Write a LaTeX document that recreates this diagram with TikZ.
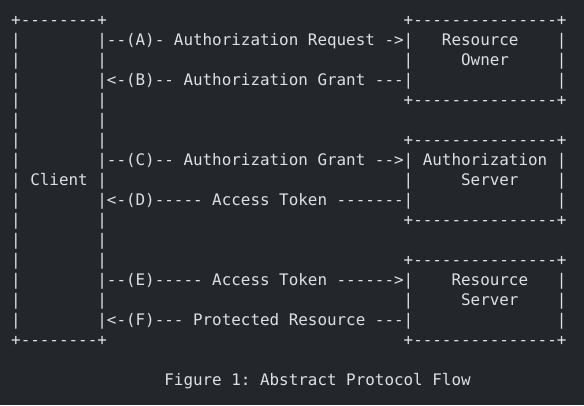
\documentclass[tikz,border=0pt]{standalone}
\usepackage{fontspec}
\setmonofont{DejaVu Sans Mono}
\definecolor{bgdark}{HTML}{23262B}
\definecolor{ink}{HTML}{DCDFE3}
\tikzset{
  glyph/.style={anchor=base west, inner sep=0pt, outer sep=0pt, text=ink,
    font=\ttfamily\fontsize{15.9pt}{20pt}\selectfont\frenchspacing},
}
\begin{document}
\begin{tikzpicture}[x=9.573pt, y=-20pt]
% Background and margins
\fill[bgdark] (-11.2pt,5.5pt) rectangle (572.8pt,-399.5pt);

% Client box
\node[glyph] (cltop) at (0,1) {+--------+};
\node[glyph] (clbot) at (0,17) {+--------+};
\foreach \l in {2,...,16} {
  \node[glyph] (clw\l) at (0,\l) {|};
  \node[glyph] (cle\l) at (9,\l) {|};
}
\node[glyph] (client) at (2,9) {Client};

% Boxes on the right
\foreach \ya/\yb/\bx in {1/5/ro, 7/11/as, 13/17/rs} {
  \node[glyph] (\bx top) at (41,\ya) {+---------------+};
  \node[glyph] (\bx bot) at (41,\yb) {+---------------+};
  \foreach \l in {1,2,3} {
    \node[glyph] (\bx w\l) at (41,\ya+\l) {|};
    \node[glyph] (\bx e\l) at (57,\ya+\l) {|};
  }
}
\node[glyph] (rolbl) at (45,2) {Resource};
\node[glyph] (rolblb) at (47,3) {Owner};
\node[glyph] (aslbl) at (43,8) {Authorization};
\node[glyph] (aslblb) at (47,9) {Server};
\node[glyph] (rslbl) at (46,14) {Resource};
\node[glyph] (rslblb) at (47,15) {Server};

% Message lines
\node[glyph] (msgA) at (10,2) {--(A)- Authorization Request ->};
\node[glyph] (msgB) at (10,4) {<-(B)-- Authorization Grant ---};
\node[glyph] (msgC) at (10,8) {--(C)-- Authorization Grant -->};
\node[glyph] (msgD) at (10,10) {<-(D)----- Access Token -------};
\node[glyph] (msgE) at (10,14) {--(E)----- Access Token ------>};
\node[glyph] (msgF) at (10,16) {<-(F)--- Protected Resource ---};

% Caption
\node[glyph] (caption) at (16,19) {Figure 1: Abstract Protocol Flow};
\end{tikzpicture}
\end{document}
